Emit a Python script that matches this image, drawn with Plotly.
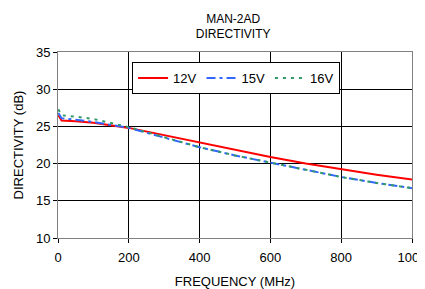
import plotly.graph_objects as go

freq = [1, 10, 50, 100, 200, 300, 400, 500, 600, 700, 800, 900, 1000]
d12 = [26.5, 25.8, 25.7, 25.5, 24.8, 23.8, 22.8, 21.8, 20.9, 20.0, 19.2, 18.5, 17.85]
d15 = [26.8, 26.1, 25.9, 25.6, 24.8, 23.5, 22.2, 21.1, 20.1, 19.1, 18.2, 17.4, 16.7]
d16 = [27.3, 26.5, 26.3, 26.0, 24.9, 23.5, 22.2, 21.1, 20.1, 19.1, 18.2, 17.4, 16.7]
names = ["12V", "15V", "16V"]

fig = go.Figure()
fig.add_trace(go.Scatter(x=freq, y=d12, name=names[0], mode="lines",
                         line=dict(color="#ff0000", width=2)))
fig.add_trace(go.Scatter(x=freq, y=d15, name=names[1], mode="lines",
                         line=dict(color="#3366ff", width=2, dash="9px,4px,3px,4px")))
fig.add_trace(go.Scatter(x=freq, y=d16, name=names[2], mode="lines",
                         line=dict(color="#339966", width=2, dash="3px,5px")))

font = "Liberation Sans, Arial, sans-serif"
fig.update_layout(
    width=417, height=281,
    margin=dict(l=50, r=13, t=44, b=51, autoexpand=False),
    paper_bgcolor="white", plot_bgcolor="white",
    font=dict(family=font, size=13, color="black"),
    title=dict(text="MAN-2AD<br>DIRECTIVITY", x=0.54, xanchor="center",
               y=0.947, yanchor="middle", font=dict(size=12)),
    showlegend=True,
    legend=dict(orientation="h", x=0.503, y=0.946, xanchor="center", yanchor="top",
                bordercolor="black", borderwidth=1, bgcolor="white",
                font=dict(size=13), itemwidth=30, tracegroupgap=0),
)
fig.update_xaxes(range=[0, 1000], tickvals=[0, 200, 400, 600, 800, 1000],
                 automargin=False, ticklabelstandoff=3, ticklabeloverflow="allow",
                 showgrid=True, gridcolor="black", gridwidth=1,
                 showline=True, linecolor="#808080", linewidth=1, mirror=True,
                 ticks="outside", ticklen=4, tickcolor="black", zeroline=False,
                 title=dict(text="FREQUENCY (MHz)", font=dict(size=13), standoff=16))
fig.update_yaxes(range=[10, 35], tickvals=[10, 15, 20, 25, 30, 35],
                 automargin=False, ticklabeloverflow="allow",
                 showgrid=True, gridcolor="black", gridwidth=1,
                 showline=True, linecolor="#808080", linewidth=1, mirror=True,
                 ticks="outside", ticklen=4, tickcolor="black", zeroline=False,
                 title=dict(text="DIRECTIVITY (dB)", font=dict(size=13), standoff=9))

fig.write_html("out.html")
